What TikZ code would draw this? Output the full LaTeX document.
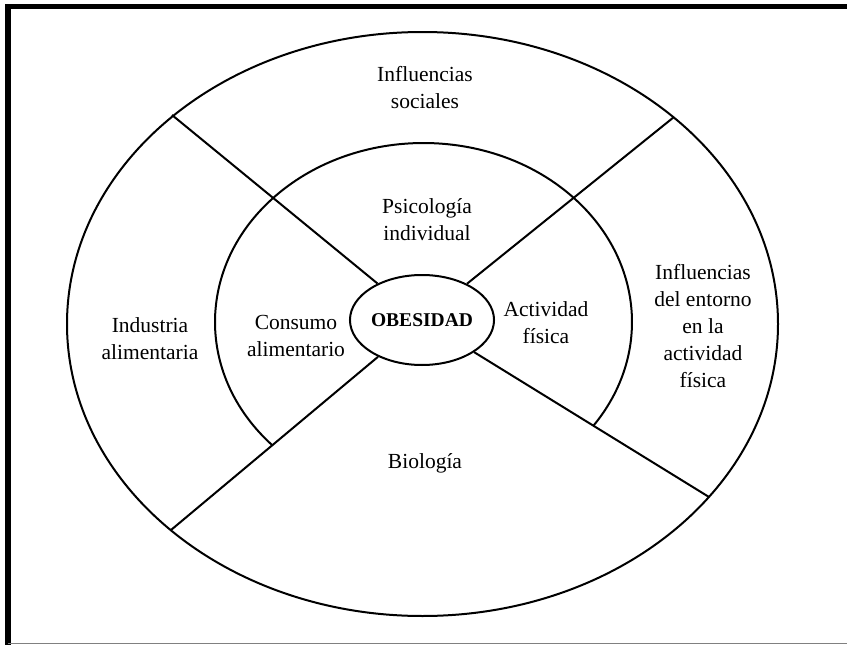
\documentclass[tikz,border=0pt]{standalone}
\usepackage{fontspec}
\setmainfont{Liberation Serif}
\usetikzlibrary{shapes.geometric}

\begin{document}
\begin{tikzpicture}[x=1pt,y=-1pt,line width=2pt,font=\fontsize{21.5}{27}\selectfont]
          \tikzstyle{every node}=[align=center,inner sep=0pt]
          \tikzstyle{core}=[ellipse,draw,minimum width=110pt,minimum height=90pt,font=\fontsize{19.5}{24}\selectfont\bfseries]
          \useasboundingbox (0,0) rectangle (847,645);
          % frame
          \draw[line width=5.5pt] (8,645) -- (8,6.5) -- (847,6.5);
          \draw[gray,line width=1pt] (8,643.5) -- (847,643.5);
          % rings (inner one open at the bottom)
          \draw (422.5,324) ellipse [x radius=355.5, y radius=292];
          \draw ([shift={(423.5,322)}]136.4:208.5 and 179) arc [start angle=136.4, end angle=395.4, x radius=208.5, y radius=179];
          \node[core] (O) at (422,320) {OBESIDAD};
          \coordinate (UL) at (172,115);
          \coordinate (UR) at (674,117);
          \coordinate (LL) at (171,530);
          \coordinate (LR) at (709,497);
          \path (O) edge (UL)
                    edge (UR)
                    edge (LL)
                    edge (LR);
          % texts
          \node (soc) at (425,88)  {Influencias\\sociales};
          \node (psi) at (427,220) {Psicología\\individual};
          \node (ind) at (150,339) {Industria\\alimentaria};
          \node (con) at (296,336) {Consumo\\alimentario};
          \node (act) at (546,323) {Actividad\\física};
          \node (ent) at (703,326) {Influencias\\del entorno\\en la\\actividad\\física};
          \node (bio) at (425,463) {Biología};
\end{tikzpicture}
\end{document}
